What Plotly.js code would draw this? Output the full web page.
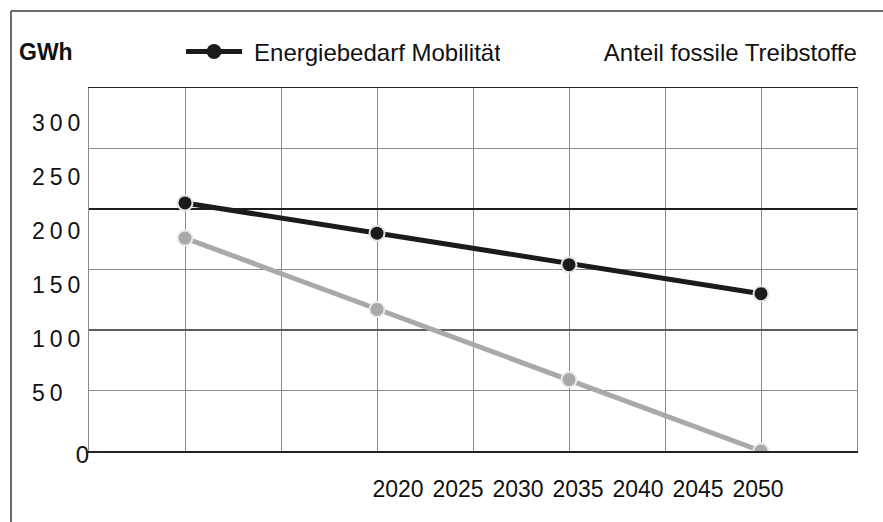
<!DOCTYPE html>
<html>
<head>
<meta charset="utf-8">
<script src="https://cdn.plot.ly/plotly-3.0.1.min.js"></script>
<style>
  html, body { margin: 0; padding: 0; background: #fff; }
  #chart { width: 883px; height: 522px; }
  /* the fossil-fuel entry is shown as plain text, without a symbol */
  .legend2 .legendlines, .legend2 .legendsymbols { display: none; }
  /* a little more room between the legend symbol and its text */
  .legend .legendtext { transform: translate(7px, 0); }
  /* solid legend dot without the pale rim */
  .legend .legendsymbols path { stroke-width: 0 !important; }
  /* spaced-out digits on the value scale */
  g.y2tick text { letter-spacing: 5px !important; }
</style>
</head>
<body>
<div id="chart"></div>
<script>
// Years with data points
const years = [2020, 2030, 2040, 2050];
// Energy demand of mobility, GWh
const energyDemand = [205, 180, 154, 130];
// Share of fossil fuels, GWh
const fossilShare = [176, 117, 59, 0];

// Grid columns (5-year steps) and value grid rows
const gridYears = [2015, 2020, 2025, 2030, 2035, 2040, 2045, 2050, 2055];
const gridValues = [0, 50, 100, 150, 200, 250, 300];
const strongGridValues = [200];
const mediumGridValues = [100];

// Year labels below the chart and value labels on the left
const yearLabels = [2020, 2025, 2030, 2035, 2040, 2045, 2050];
const valueLabels = [50, 100, 150, 200, 250, 300];

const seriesNames = ['Energiebedarf Mobilität', 'Anteil fossile Treibstoffe'];
const unitLabel = 'GWh';

const FONT = 'Liberation Sans, Arial, Helvetica, sans-serif';

// empty carrier so that an overlay axis gets drawn
function carrier(xs, ys, xa, ya) {
  return {
    type: 'scatter', mode: 'lines', x: xs, y: ys, xaxis: xa, yaxis: ya,
    showlegend: false, hoverinfo: 'skip', line: { width: 0 }
  };
}

const traces = [
  carrier(yearLabels, yearLabels.map(() => null), 'x2', 'y'),
  carrier(valueLabels.map(() => null), valueLabels, 'x', 'y2'),
  carrier(strongGridValues.map(() => null), strongGridValues, 'x', 'y3'),
  carrier(mediumGridValues.map(() => null), mediumGridValues, 'x', 'y4'),
  {
    type: 'scatter', mode: 'lines+markers',
    x: years, y: energyDemand, name: seriesNames[0],
    line: { color: '#1b1b1b', width: 5 },
    marker: { color: '#1b1b1b', size: 15, line: { color: '#e4e4e4', width: 2 } },
    legend: 'legend'
  },
  {
    type: 'scatter', mode: 'lines+markers',
    x: years, y: fossilShare, name: seriesNames[1],
    line: { color: '#a9a9a9', width: 5 },
    marker: { color: '#a9a9a9', size: 15, line: { color: '#ececec', width: 2 } },
    legend: 'legend2'
  }
];

const xDomain = [78 / 872, 846 / 872];
const yDomain = [71 / 511, 434 / 511];

const layout = {
  width: 883, height: 522,
  margin: { l: 11, r: 0, t: 11, b: 0, pad: 0 },
  paper_bgcolor: '#ffffff', plot_bgcolor: '#ffffff',
  font: { family: FONT, size: 23, color: '#111' },
  showlegend: true,
  xaxis: {
    domain: xDomain, range: [2015, 2055],
    tickvals: gridYears, showticklabels: false, ticks: '',
    showgrid: true, gridcolor: '#8a8a8a', gridwidth: 1,
    showline: true, linecolor: '#222', linewidth: 1.5, mirror: true,
    zeroline: false, fixedrange: true
  },
  xaxis2: {
    overlaying: 'x', anchor: 'y', side: 'bottom',
    range: [1994.25, 2058.25],
    tickvals: yearLabels, ticktext: yearLabels.map(String),
    showgrid: false, zeroline: false, showline: false, ticks: '',
    ticklabelstandoff: 22,
    tickfont: { family: FONT, size: 23, color: '#111' }
  },
  yaxis: {
    domain: yDomain, range: [0, 300],
    tickvals: gridValues, ticktext: gridValues.map(v => v === 0 ? '0' : ''),
    ticks: '', ticklabelstandoff: -6, ticklabelshift: 4,
    tickfont: { family: FONT, size: 24, color: '#111' },
    showgrid: true, gridcolor: '#8a8a8a', gridwidth: 1,
    showline: true, linecolor: '#8a8a8a', linewidth: 1, mirror: true,
    zeroline: false, fixedrange: true
  },
  yaxis3: {
    overlaying: 'y', range: [0, 300],
    tickvals: strongGridValues, showticklabels: false, ticks: '',
    showgrid: true, gridcolor: '#1e1e1e', gridwidth: 1.2,
    zeroline: false, showline: false
  },
  yaxis4: {
    overlaying: 'y', range: [0, 300],
    tickvals: mediumGridValues, showticklabels: false, ticks: '',
    showgrid: true, gridcolor: '#5c5c5c', gridwidth: 2,
    zeroline: false, showline: false
  },
  yaxis2: {
    overlaying: 'y', anchor: 'free', side: 'right',
    position: 20 / 872,
    range: [-3.8, 332.7],
    tickvals: valueLabels, ticktext: valueLabels.map(String),
    showgrid: false, zeroline: false, showline: false, ticks: '',
    tickfont: { family: FONT, size: 23, color: '#111' }
  },
  legend: {
    orientation: 'h', x: 0.195, xanchor: 'left', y: 0.92, yanchor: 'middle',
    xref: 'paper', yref: 'paper', itemwidth: 56, borderwidth: 0,
    bgcolor: 'rgba(0,0,0,0)',
    font: { family: FONT, size: 24, color: '#111' }
  },
  legend2: {
    orientation: 'h', x: 0.634, xanchor: 'left', y: 0.92, yanchor: 'middle',
    xref: 'paper', yref: 'paper', borderwidth: 0,
    bgcolor: 'rgba(0,0,0,0)',
    font: { family: FONT, size: 24, color: '#111' }
  },
  annotations: [
    {
      text: '<b>' + unitLabel + '</b>', xref: 'paper', yref: 'paper',
      x: 6 / 872, y: (522 - 52) / 511, xanchor: 'left', yanchor: 'middle',
      showarrow: false, font: { family: FONT, size: 23, color: '#111' }
    }
  ],
  shapes: [
    { type: 'line', xref: 'paper', yref: 'paper', x0: 0, x1: 1, y0: 1, y1: 1,
      line: { color: '#3a3a3a', width: 1.5 } },
    { type: 'line', xref: 'paper', yref: 'paper', x0: 0, x1: 0, y0: 0, y1: 1,
      line: { color: '#3a3a3a', width: 1.5 } }
  ]
};

Plotly.newPlot('chart', traces, layout, { staticPlot: true, displayModeBar: false });
</script>
</body>
</html>
